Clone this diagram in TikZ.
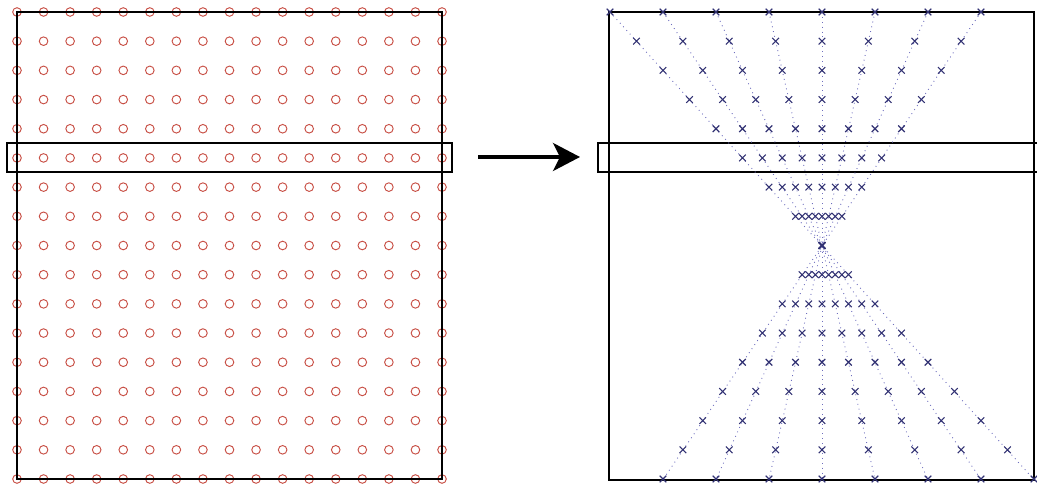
\documentclass[tikz,border=0pt]{standalone}
\usetikzlibrary{arrows.meta}
\definecolor{circred}{RGB}{200,80,70}
\definecolor{xnavy}{RGB}{50,50,115}
\definecolor{guideblue}{RGB}{110,110,190}
\begin{document}
\begin{tikzpicture}[x=1pt,y=-1pt,
  frame/.style={draw=black,line width=1.3pt},
  circ/.style={draw=circred,line width=0.95pt},
  xmk/.style={draw=xnavy,line width=1.1pt},
  guide/.style={draw=guideblue,line width=0.9pt,dash pattern=on 0.9pt off 4pt}]
\useasboundingbox (0,0) rectangle (1037,489);
% left grid of circles
\foreach \i in {0,...,16}{
  \foreach \j in {0,...,16}{
    \draw[circ] ({17+\i*26.5625},{12+\j*29.1875}) circle (4.3);
  }
}
\draw[frame] (17,12) rectangle (442,479);
\draw[frame] (7,143) rectangle (452,172);
% arrow
\coordinate (a0) at (478,157);
\coordinate (a1) at (580,157);
\draw[line width=3.4pt,-{Stealth[length=27pt,width=28pt,inset=7pt]}] (a0) -- (a1);
% right: frame
\draw[frame] (609,12) rectangle (1034,480);
\draw[frame] (1037,143) -- (598,143) -- (598,172) -- (1037,172);
% guide lines and crosses
\foreach \k in {0,...,7}{
  \pgfmathsetmacro{\xt}{610+53*\k}
  \pgfmathsetmacro{\xb}{1034-53*\k}
  \coordinate (t\k) at (\xt,12);
  \coordinate (b\k) at (\xb,479.5);
  \draw[guide] (t\k) -- (b\k);
  \foreach \j in {0,...,16}{
    \pgfmathsetmacro{\xx}{\xt+(\j/16)*(\xb-\xt)}
    \pgfmathsetmacro{\yy}{12+\j*29.1875}
    \draw[xmk] (\xx-3.3,\yy-3.3) -- (\xx+3.3,\yy+3.3) (\xx-3.3,\yy+3.3) -- (\xx+3.3,\yy-3.3);
  }
}
\end{tikzpicture}
\end{document}
